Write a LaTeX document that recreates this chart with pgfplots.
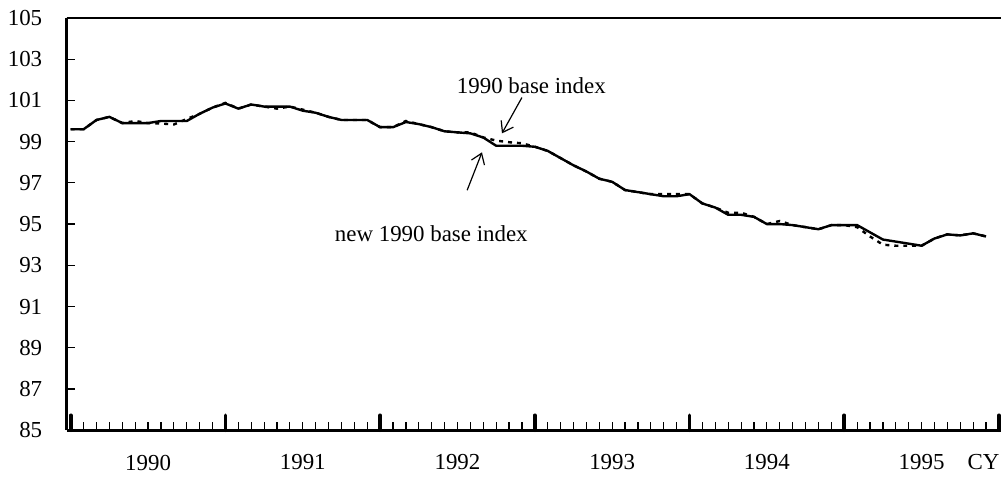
\documentclass[border=0pt]{standalone}
\usepackage{fontspec}
\setmainfont{Liberation Serif}
\usepackage{pgfplots}
\usepackage{pgfplotstable}
\pgfplotsset{compat=1.18}
\usetikzlibrary{arrows.meta}

\pgfplotstableread{
m new old
0 99.6 99.6
1 99.6 99.6
2 100.05 100.05
3 100.2 100.2
4 99.9 99.9
5 99.9 100.0
6 99.9 99.9
7 100.0 99.88
8 100.0 99.83
9 100.0 100.1
10 100.35 100.35
11 100.65 100.65
12 100.85 100.88
13 100.6 100.6
14 100.8 100.8
15 100.7 100.7
16 100.7 100.6
17 100.7 100.7
18 100.5 100.55
19 100.4 100.4
20 100.2 100.2
21 100.05 100.05
22 100.05 100.05
23 100.05 100.05
24 99.7 99.7
25 99.7 99.7
26 99.95 100.0
27 99.85 99.85
28 99.7 99.7
29 99.5 99.5
30 99.45 99.45
31 99.4 99.45
32 99.2 99.2
33 98.8 99.05
34 98.8 98.97
35 98.8 98.92
36 98.75 98.75
37 98.55 98.55
38 98.2 98.2
39 97.85 97.85
40 97.55 97.55
41 97.2 97.2
42 97.05 97.05
43 96.65 96.65
44 96.55 96.55
45 96.45 96.45
46 96.35 96.45
47 96.35 96.45
48 96.45 96.45
49 96.0 96.0
50 95.8 95.8
51 95.45 95.55
52 95.45 95.55
53 95.35 95.35
54 95.0 95.0
55 95.0 95.15
56 94.95 94.95
57 94.85 94.85
58 94.75 94.75
59 94.95 94.95
60 94.95 94.95
61 94.95 94.85
62 94.6 94.4
63 94.25 94.0
64 94.15 93.95
65 94.05 93.95
66 93.95 93.95
67 94.3 94.3
68 94.5 94.5
69 94.45 94.45
70 94.55 94.55
71 94.4 94.4
}\datatable

\begin{document}
\fontsize{11.5}{13.5}\selectfont
\begin{tikzpicture}
\begin{axis}[
  scale only axis,
  width=469pt, height=207pt,
  xmin=-0.31, xmax=72.15,
  ymin=85, ymax=105,
  axis x line*=bottom, axis y line*=left,
  axis line style={line width=1.3pt},
  clip=false,
  tick align=inside,
  major tick length=4pt, minor tick length=4pt,
  ytick style={line width=0.6pt, black},
  minor x tick style={line width=0.6pt, black},
  major x tick style={line width=0.6pt, black},
  ytick={85,87,...,105},
  xtick={0,6,...,72},
  xticklabels={,1990,,1991,,1992,,1993,,1994,,1995,},
  minor x tick num=5,
  extra x ticks={0,12,...,72},
  extra x tick labels={},
  extra x tick style={major tick length=7.5pt, major x tick style={line width=1.8pt, line cap=round, black}},
  /pgf/number format/assume math mode=true,
  yticklabel style={xshift=-8.3pt},
  xticklabel style={yshift=-8.3pt},
]
\addplot[black, line width=1.2pt, dash pattern=on 2pt off 2.5pt] table[x=m, y=old] {\datatable};
\addplot[black, line width=1.2pt] table[x=m, y=new] {\datatable};
\draw[line width=0.6pt] (rel axis cs:0,1) -- (rel axis cs:1,1);
\node[anchor=north, yshift=-8.3pt, inner sep=0.3333em] at (axis cs:70.8,85) {CY};
\node at (axis cs:35.73,101.72) {1990 base index};
\draw[line width=0.6pt, -{Straight Barb[length=5pt,width=7pt]}] (axis cs:35.0,101.14) -- (axis cs:33.45,99.40);
\node at (axis cs:27.97,94.52) {new 1990 base index};
\draw[line width=0.6pt, -{Straight Barb[length=5pt,width=7pt]}] (axis cs:30.75,96.64) -- (axis cs:31.9,98.48);
\path ([xshift=-33.5pt,yshift=-22.5pt]rel axis cs:0,0) rectangle ([xshift=1pt,yshift=9pt]rel axis cs:1,1);
\end{axis}
\end{tikzpicture}
\end{document}
